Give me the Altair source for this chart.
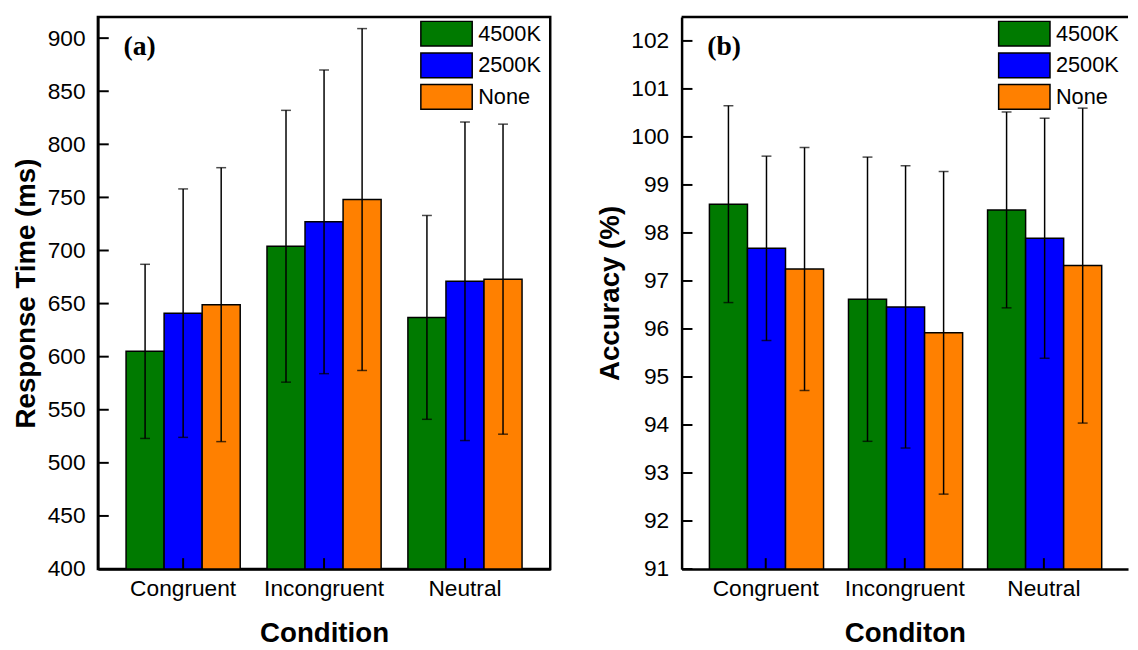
import altair as alt
import pandas as pd

conditions = ["Congruent", "Incongruent", "Neutral"]
lights = ["4500K", "2500K", "None"]
colors = ["#007A00", "#0000FF", "#FF8000"]

# (a) Response time (ms): mean and SD per condition, for each light
rt_4500 = [605, 704, 637]
rt_2500 = [641, 727, 671]
rt_none = [649, 748, 673]
rt_sd_4500 = [82, 128, 96]
rt_sd_2500 = [117, 143, 150]
rt_sd_none = [129, 161, 146]

# (b) Accuracy (%): mean and SD per condition, for each light
acc_4500 = [98.6, 96.62, 98.48]
acc_2500 = [97.68, 96.46, 97.89]
acc_none = [97.25, 95.92, 97.32]
acc_sd_4500 = [2.05, 2.96, 2.04]
acc_sd_2500 = [1.92, 2.94, 2.5]
acc_sd_none = [2.53, 3.36, 3.28]

rt_ticks = [400, 450, 500, 550, 600, 650, 700, 750, 800, 850, 900]
acc_ticks = [91, 92, 93, 94, 95, 96, 97, 98, 99, 100, 101, 102]

FONT = "Liberation Sans"


def make_df(means, sds):
    rows = []
    for light, m_list, s_list in zip(lights, means, sds):
        for cond, m, s in zip(conditions, m_list, s_list):
            rows.append({"condition": cond, "light": light, "mean": m,
                         "lo": m - s, "hi": m + s})
    return pd.DataFrame(rows)


def panel(df, ticks, domain, ytitle, xtitle, tag, width, height, framed, legx):
    xscale = alt.Scale(paddingInner=0.19, paddingOuter=0.2)
    xaxis = alt.Axis(title=xtitle, labelAngle=0, labelFontSize=23, titleFontSize=28,
                     labelPadding=9, titlePadding=19, ticks=False, labelFont=FONT,
                     titleFont=FONT)
    yscale = alt.Scale(domain=domain, nice=False, zero=False)
    yaxis = alt.Axis(title=ytitle, values=ticks, labelFontSize=23, titleFontSize=28,
                     labelPadding=13, titlePadding=7, ticks=False, labelFlush=False,
                     grid=False, labelFont=FONT, titleFont=FONT, format="d")

    def X():
        return alt.X("condition:N", sort=conditions, scale=xscale, axis=xaxis, title=xtitle)

    def Y(field):
        return alt.Y(field, scale=yscale, axis=yaxis, title=ytitle)

    xo = alt.XOffset("light:N", sort=lights)
    base = alt.Chart(df)

    bars = base.mark_bar(stroke="black", strokeWidth=1.5).encode(
        x=X(), xOffset=xo, y=Y("mean:Q"), y2=alt.datum(domain[0]),
        color=alt.Color("light:N", sort=lights,
                        scale=alt.Scale(domain=lights, range=colors),
                        legend=alt.Legend(title=None, orient="none", legendX=legx,
                                          legendY=3,
                                          symbolType="M-1,-0.96H3V0.96H-1Z",
                                          symbolSize=676, symbolStrokeColor="black",
                                          symbolStrokeWidth=1.5, symbolOpacity=1,
                                          labelFontSize=22, labelFont=FONT,
                                          labelColor="black", rowPadding=0,
                                          labelOffset=31, padding=0)),
    )
    errs = base.mark_rule(color="black", strokeWidth=1.5).encode(
        x=X(), xOffset=xo, y=Y("lo:Q"), y2="hi:Q")
    caps = base.transform_fold(["lo", "hi"], as_=["end", "val"]).mark_tick(
        color="black", thickness=1.5, size=10, orient="horizontal").encode(
        x=X(), xOffset=xo, y=Y("val:Q"))

    ytick = alt.Chart(pd.DataFrame({"v": ticks})).mark_rule(
        color="black", strokeWidth=2).encode(
        y=Y("v:Q"), x=alt.value(0), x2=alt.value(11))
    xtick = alt.Chart(pd.DataFrame({"condition": conditions})).mark_rule(
        color="black", strokeWidth=2).encode(
        x=X(), y=alt.value(height), y2=alt.value(height - 11))
    label = alt.Chart(pd.DataFrame({"t": [tag]})).mark_text(
        font="Liberation Serif", fontWeight="bold", fontSize=28, align="left",
        baseline="alphabetic", color="black").encode(
        text="t:N", x=alt.value(26), y=alt.value(39))

    layers = [bars, errs, caps, ytick, xtick, label]
    if not framed:
        top = alt.Chart(pd.DataFrame({"t": [0]})).mark_rule(
            color="black", strokeWidth=2.5).encode(
            x=alt.value(0), x2=alt.value(width), y=alt.value(0))
        layers.append(top)
    ch = alt.layer(*layers).properties(width=width, height=height)
    if not framed:
        ch = ch.properties(view=alt.ViewBackground(stroke=None))
    return ch


df_rt = make_df([rt_4500, rt_2500, rt_none], [rt_sd_4500, rt_sd_2500, rt_sd_none])
df_acc = make_df([acc_4500, acc_2500, acc_none], [acc_sd_4500, acc_sd_2500, acc_sd_none])

left = panel(df_rt, rt_ticks, [400, 920], "Response Time (ms)", "Condition", "(a)",
             458, 559, True, 326)
right = panel(df_acc, acc_ticks, [91, 102.5], "Accuracy (%)", "Conditon", "(b)",
              452, 559, False, 320)

chart = alt.hconcat(left, right, spacing=44).resolve_legend(color="independent").properties(
    padding={"left": 3, "top": 3, "right": 0, "bottom": 0}
).configure_view(stroke="black", strokeWidth=2.5).configure_axis(
    domainColor="black", domainWidth=2.5, labelColor="black", titleColor="black",
    titleFontWeight="bold", grid=False
)

chart.save("out.html", embed_options={"renderer": "svg", "actions": False})
